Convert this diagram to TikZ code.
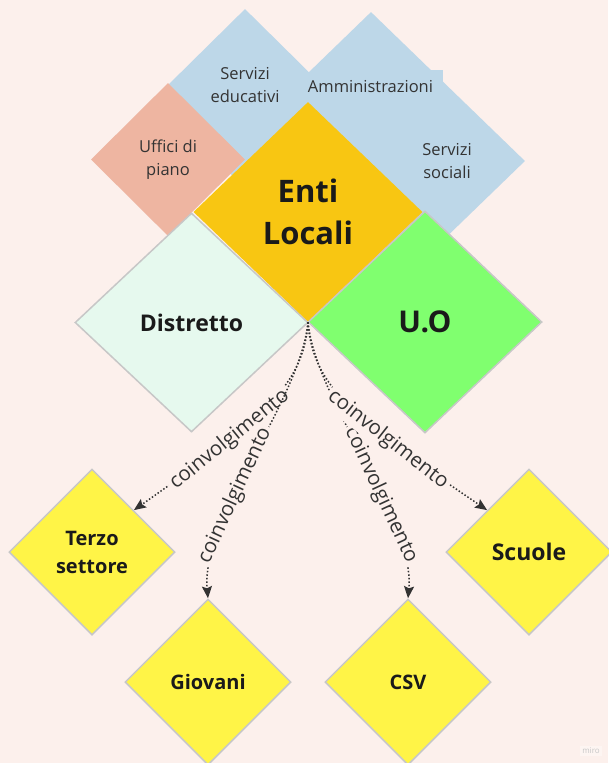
\documentclass[tikz,border=0pt]{standalone}
\usepackage{fontspec}
\setmainfont{Open Sans}
\usetikzlibrary{shapes.geometric,arrows.meta}

\definecolor{bg}{HTML}{FCF0EC}
\definecolor{skyblue}{HTML}{BDD7E8}
\definecolor{salmon}{HTML}{EEB5A1}
\definecolor{amber}{HTML}{F8C612}
\definecolor{mint}{HTML}{E6F9EE}
\definecolor{lime}{HTML}{80FF6F}
\definecolor{lemon}{HTML}{FFF447}
\definecolor{edge}{HTML}{C7C7C7}
\definecolor{ink}{HTML}{333333}
\definecolor{darkink}{HTML}{1A1A1A}

\begin{document}
\begin{tikzpicture}[x=1pt,y=-1pt,
  tile/.style={diamond, inner sep=0pt, draw=none, align=center},
  framed/.style={tile, draw=edge, line width=1.5pt},
  areatext/.style={text=ink, align=center, font=\fontsize{16.5}{23}\selectfont},
  bigbold/.style={text=darkink, font=\bfseries\fontsize{31}{42}\selectfont},
  midbold/.style={text=darkink, font=\bfseries\fontsize{20}{28}\selectfont},
  link/.style={draw=ink, line width=1.5pt, dash pattern=on 1.5pt off 2pt,
    -{Stealth[length=12pt,width=10pt,inset=2pt]}},
  linktext/.style={sloped, fill=bg, inner sep=2.5pt, text=ink,
    font=\fontsize{20.5}{22}\selectfont}
]
% canvas
\fill[bg] (0,0) rectangle (608,763);
\useasboundingbox (0,0) rectangle (608,763);

% background tiles
\node[tile, fill=skyblue, minimum width=308pt, minimum height=298pt] (amm) at (371,161) {};
\fill[skyblue] (330,70) rectangle (443,100);
\node[tile, fill=skyblue, minimum width=154pt, minimum height=152pt] (edu) at (245,85) {};
\node[tile, fill=salmon, minimum width=154pt, minimum height=153pt] (uffici) at (168,159.5) {};

\node[areatext] (edutext) at (245,85) {Servizi\\educativi};
\node[areatext] (uffitext) at (168,160) {Uffici di\\piano};
\node[areatext] (ammtext) at (370.5,87) {Amministrazioni};
\node[areatext] (soctext) at (447,161) {Servizi\\sociali};

% central tiles
\node[tile, fill=amber, minimum width=229pt, minimum height=220pt] (enti) at (308,212) {};
\node[bigbold, align=center] (entitext) at (308,212) {Enti\\Locali};
\node[framed, fill=mint, minimum width=233pt, minimum height=219pt,
  text=darkink, font=\bfseries\fontsize{23}{26}\selectfont] (distretto) at (191.5,322.5) {Distretto};
\node[framed, fill=lime, minimum width=234pt, minimum height=222pt,
  text=darkink, font=\bfseries\fontsize{30}{32}\selectfont] (uo) at (425,322) {U.O};

% involved partners
\node[framed, fill=lemon, minimum width=166pt, minimum height=166pt, midbold] (terzo) at (92,552) {Terzo\\settore};
\node[framed, fill=lemon, minimum width=166pt, minimum height=166pt, midbold] (giovani) at (208,682) {Giovani};
\node[framed, fill=lemon, minimum width=166pt, minimum height=166pt, midbold] (csv) at (408,682) {CSV};
\node[framed, fill=lemon, minimum width=166pt, minimum height=166pt, text=darkink,
  font=\bfseries\fontsize{23}{28}\selectfont] (scuole) at (529,552) {Scuole};

% connectors
\draw[link] (enti.south) .. controls (304,385) and (262,420) .. (terzo.north east)
  node[linktext, pos=0.69] (lt) {coinvolgimento};
\draw[link] (enti.south) .. controls (300,402) and (201,518) .. (giovani.north)
  node[linktext, pos=0.62] (lg) {coinvolgimento};
\draw[link] (enti.south) .. controls (316,402) and (415,518) .. (csv.north)
  node[linktext, pos=0.62] (lc) {coinvolgimento};
\draw[link] (enti.south) .. controls (312,385) and (354,420) .. (scuole.north west)
  node[linktext, pos=0.69] (ls) {coinvolgimento};

% watermark
\node[fill=white, fill opacity=0.35, text opacity=1, text=edge, inner sep=2pt,
  font=\fontsize{8}{9}\selectfont] (miro) at (591,751) {miro};
\end{tikzpicture}
\end{document}
